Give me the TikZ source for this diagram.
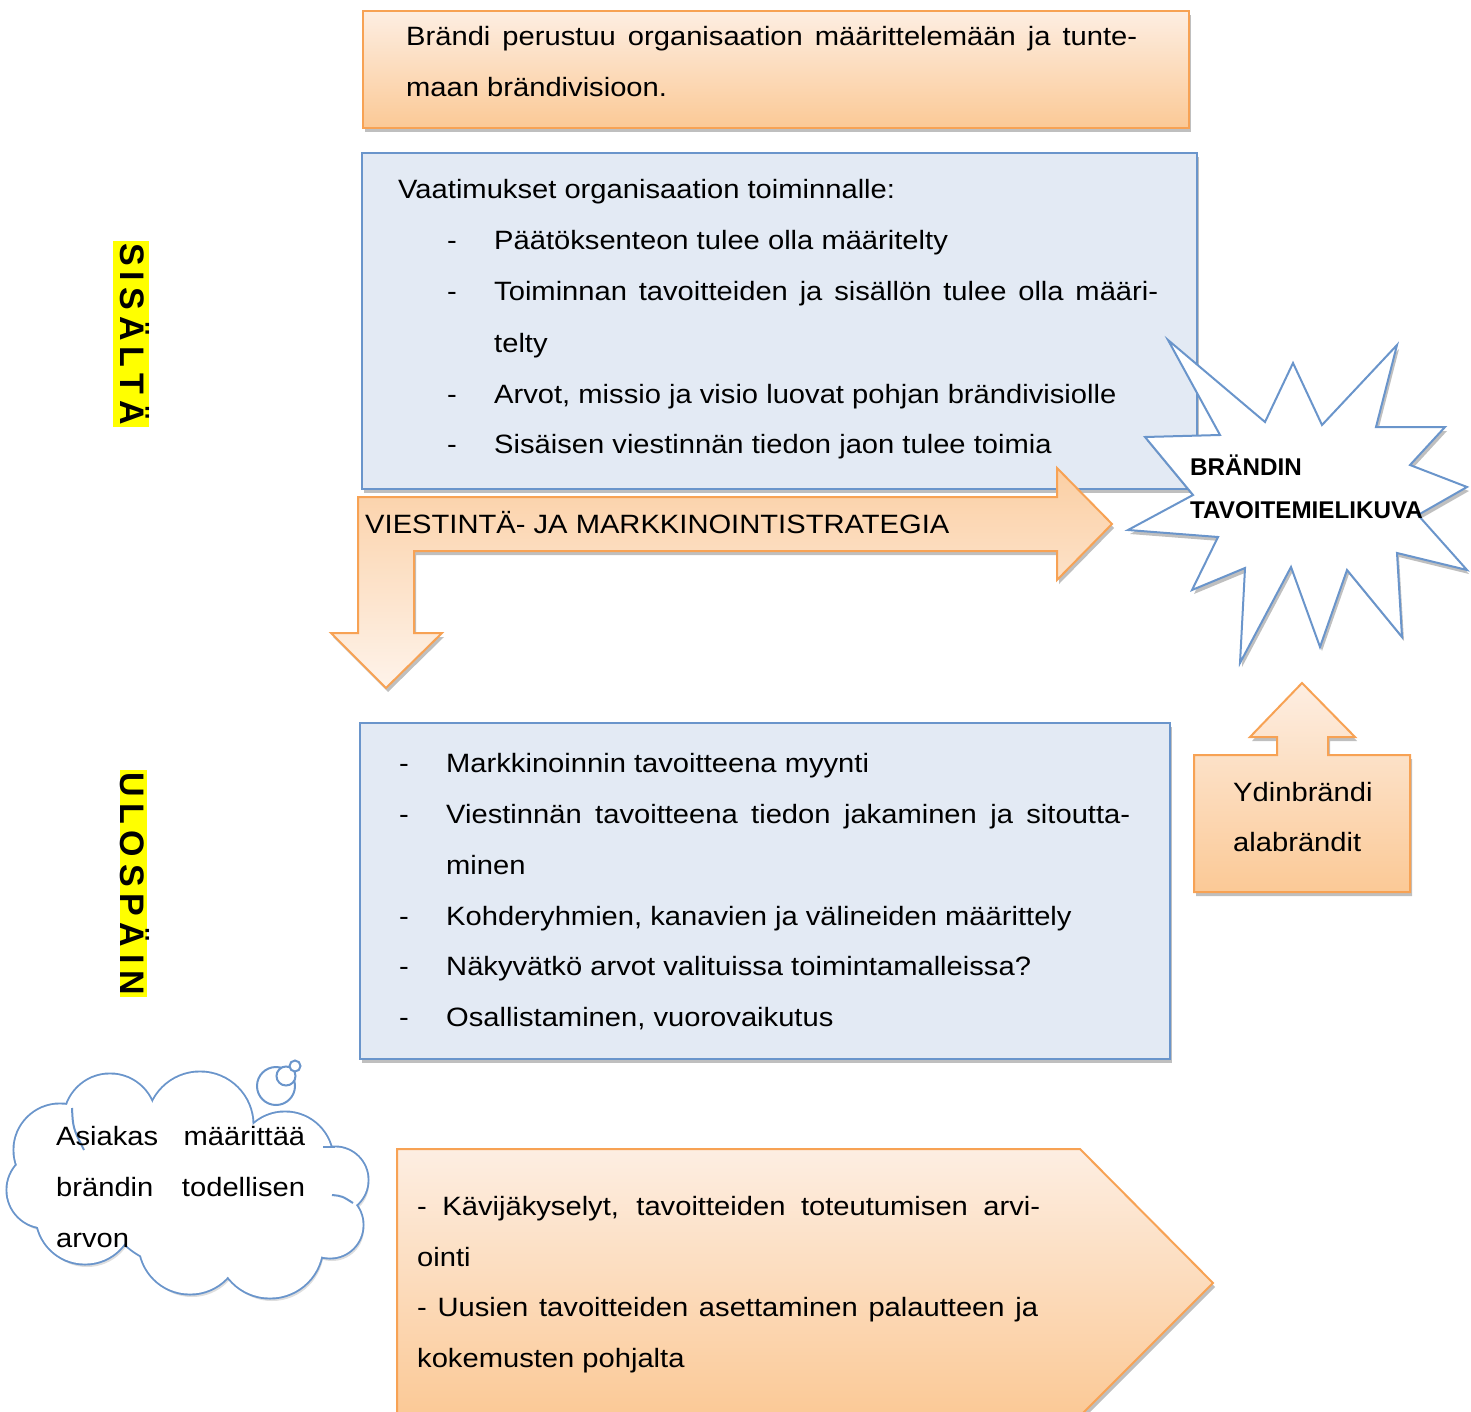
\documentclass[tikz,border=0pt]{standalone}
\usepackage{fontspec}
\setmainfont{Liberation Sans}[FakeStretch=1.1]
\newfontfamily\plainsans{Liberation Sans}
\usetikzlibrary{shadows}
\definecolor{bluefill}{HTML}{E3EAF4}
\definecolor{blueline}{HTML}{6A95CB}
\definecolor{orline}{HTML}{F7A254}
\definecolor{ortop}{HTML}{FDEEE2}
\definecolor{orbot}{HTML}{FBC996}
\definecolor{arrtop}{HTML}{FBCFA4}
\definecolor{arrbot}{HTML}{FEF3EA}
\definecolor{hl}{HTML}{FFFF00}
\begin{document}
\begin{tikzpicture}[x=1pt,y=1pt,
  shadowed/.style={drop shadow={shadow xshift=2pt, shadow yshift=-4pt, opacity=0.25, fill=black}},
  txt/.style={anchor=base west, inner sep=0pt, font=\fontsize{26.5}{32}\selectfont},
  startxt/.style={anchor=base west, inner sep=0pt, font=\plainsans\bfseries\fontsize{24.2}{26}\selectfont},
  bluebox/.style={draw=blueline, line width=2pt, fill=bluefill, shadowed, anchor=north west, inner sep=0pt},
  orbox/.style={draw=orline, line width=2pt, top color=ortop, bottom color=orbot, shadowed, anchor=north west, inner sep=0pt},
  orshape/.style={draw=orline, line width=2pt, top color=ortop, bottom color=orbot, shadowed},
  vlabel/.style={fill=hl, rotate=-90, inner xsep=2pt, font=\plainsans\bfseries\fontsize{34}{34}\selectfont},
  crease/.style={draw=blueline, line width=2pt}
]
\useasboundingbox (0,0) rectangle (1471,-1412);
\clip (0,0) rectangle (1471,-1412);

% vertical labels
\node[vlabel, inner ysep=0pt, text height=29pt, text depth=7pt] (sisalta) at (131,-334)
  {S\kern6pt I\kern6pt S\kern6pt Ä\kern6pt L\kern6pt T\kern6pt Ä};
\node[vlabel, inner ysep=0pt, text height=27pt, text depth=0pt] (ulospain) at (133.5,-883.5)
  {U\kern6.7pt L\kern6.7pt O\kern6.7pt S\kern6.7pt P\kern6.7pt Ä\kern6.7pt I\kern6.7pt N};

% top orange box
\node[orbox, minimum width=826pt, minimum height=117pt] (vision) at (362,-10) {};
\node[txt] (vision1) at (406,-46) {\makebox[731pt][s]{Brändi perustuu organisaation määrittelemään ja tunte-}};
\node[txt] (vision2) at (406,-97) {maan brändivisioon.};

% requirements box
\node[bluebox, minimum width=835pt, minimum height=336pt] (req) at (361,-152) {};
\node[txt] (req0) at (398,-199) {Vaatimukset organisaation toiminnalle:};
\node[txt] (reqd1) at (447,-250) {-};
\node[txt] (req1) at (494,-250) {Päätöksenteon tulee olla määritelty};
\node[txt] (reqd2) at (447,-301) {-};
\node[txt] (req2) at (494,-301) {\makebox[664pt][s]{Toiminnan tavoitteiden ja sisällön tulee olla määri-}};
\node[txt] (req2b) at (494,-352) {telty};
\node[txt] (reqd3) at (447,-403) {-};
\node[txt] (req3) at (494,-403) {Arvot, missio ja visio luovat pohjan brändivisiolle};
\node[txt] (reqd4) at (447,-453) {-};
\node[txt] (req4) at (494,-453) {Sisäisen viestinnän tiedon jaon tulee toimia};

% bent arrow
\path[draw=orline, line width=2pt, top color=arrtop, bottom color=arrbot, shadowed]
  (358,-497) -- (1057,-497) -- (1057,-468) -- (1112,-524) -- (1057,-580) -- (1057,-551)
  -- (414,-551) -- (414,-633) -- (442,-633) -- (386,-688) -- (331,-633) -- (358,-633) -- cycle;
\node[txt] (strategy) at (365,-533) {VIESTINTÄ- JA MARKKINOINTISTRATEGIA};

% star
\path[draw=blueline, line width=2pt, fill=white, shadowed]
  (1168,-340) -- (1265,-422) -- (1293,-363) -- (1322,-425) -- (1397,-345) -- (1376,-427)
  -- (1445,-427) -- (1410,-465) -- (1467,-487) -- (1418,-515) -- (1467,-570) -- (1397,-553)
  -- (1402,-637) -- (1347,-570) -- (1320,-647) -- (1291,-567) -- (1240,-663) -- (1245,-568)
  -- (1192,-590) -- (1218,-537) -- (1128,-530) -- (1193,-495) -- (1145,-437) -- (1220,-435) -- cycle;
\node[startxt] (star1) at (1190,-475) {BRÄNDIN};
\node[startxt] (star2) at (1190,-518) {TAVOITEMIELIKUVA};

% up arrow callout
\path[orshape]
  (1194,-755) -- (1277,-755) -- (1277,-737) -- (1250,-737) -- (1302,-683) -- (1355,-737)
  -- (1328,-737) -- (1328,-755) -- (1410,-755) -- (1410,-892) -- (1194,-892) -- cycle;
\node[txt] (core1) at (1233,-801) {Ydinbrändi};
\node[txt] (core2) at (1233,-851) {alabrändit};

% marketing box
\node[bluebox, minimum width=810pt, minimum height=336pt] (mkt) at (359,-722) {};
\node[txt] (mktd1) at (399,-772) {-};
\node[txt] (mkt1) at (446,-772) {Markkinoinnin tavoitteena myynti};
\node[txt] (mktd2) at (399,-823) {-};
\node[txt] (mkt2) at (446,-823) {\makebox[684pt][s]{Viestinnän tavoitteena tiedon jakaminen ja sitoutta-}};
\node[txt] (mkt2b) at (446,-874) {minen};
\node[txt] (mktd3) at (399,-925) {-};
\node[txt] (mkt3) at (446,-925) {Kohderyhmien, kanavien ja välineiden määrittely};
\node[txt] (mktd4) at (399,-975) {-};
\node[txt] (mkt4) at (446,-975) {Näkyvätkö arvot valituissa toimintamalleissa?};
\node[txt] (mktd5) at (399,-1026) {-};
\node[txt] (mkt5) at (446,-1026) {Osallistaminen, vuorovaikutus};

% cloud
\def\cloudcircles{60/1150/45, 110/1120/45, 200/1125/52, 285/1160/47, 335/1180/32,
  330/1225/32, 270/1245/52, 190/1243/50, 85/1215/48, 45/1190/37, 180/1185/80, 305/1205/22}
\foreach \cx/\cy/\r in \cloudcircles { \fill[black!13] (\cx+2,-\cy-4) circle (\r); }
\foreach \cx/\cy/\r in \cloudcircles { \draw[blueline, line width=5pt] (\cx,-\cy) circle (\r); }
\foreach \cx/\cy/\r in \cloudcircles { \fill[white] (\cx,-\cy) circle (\r+0.6); }
\path[crease] (72,-1108) .. controls (73,-1128) .. (84,-1150);
\path[crease] (323,-1147) -- (335,-1147);
\path[crease] (332,-1195) .. controls (342,-1196) .. (353,-1203);
\filldraw[fill=white, draw=blueline, line width=2pt] (276,-1086) circle (19);
\filldraw[fill=white, draw=blueline, line width=2pt] (286,-1076) circle (9.5);
\filldraw[fill=white, draw=blueline, line width=2pt] (295,-1066) circle (5.5);
\node[txt] (cloud1) at (56,-1145) {\makebox[249pt][s]{Asiakas määrittää}};
\node[txt] (cloud2) at (56,-1196) {\makebox[249pt][s]{brändin todellisen}};
\node[txt] (cloud3) at (56,-1247) {arvon};

% bottom pentagon
\path[orshape] (397,-1149) -- (1080,-1149) -- (1213,-1283) -- (1080,-1416) -- (397,-1416) -- cycle;
\node[txt] (eval1) at (417,-1215) {\makebox[623pt][s]{- Kävijäkyselyt, tavoitteiden toteutumisen arvi-}};
\node[txt] (eval2) at (417,-1266) {ointi};
\node[txt] (eval3) at (417,-1316) {\makebox[621pt][s]{- Uusien tavoitteiden asettaminen palautteen ja}};
\node[txt] (eval4) at (417,-1367) {kokemusten pohjalta};
\end{tikzpicture}
\end{document}
